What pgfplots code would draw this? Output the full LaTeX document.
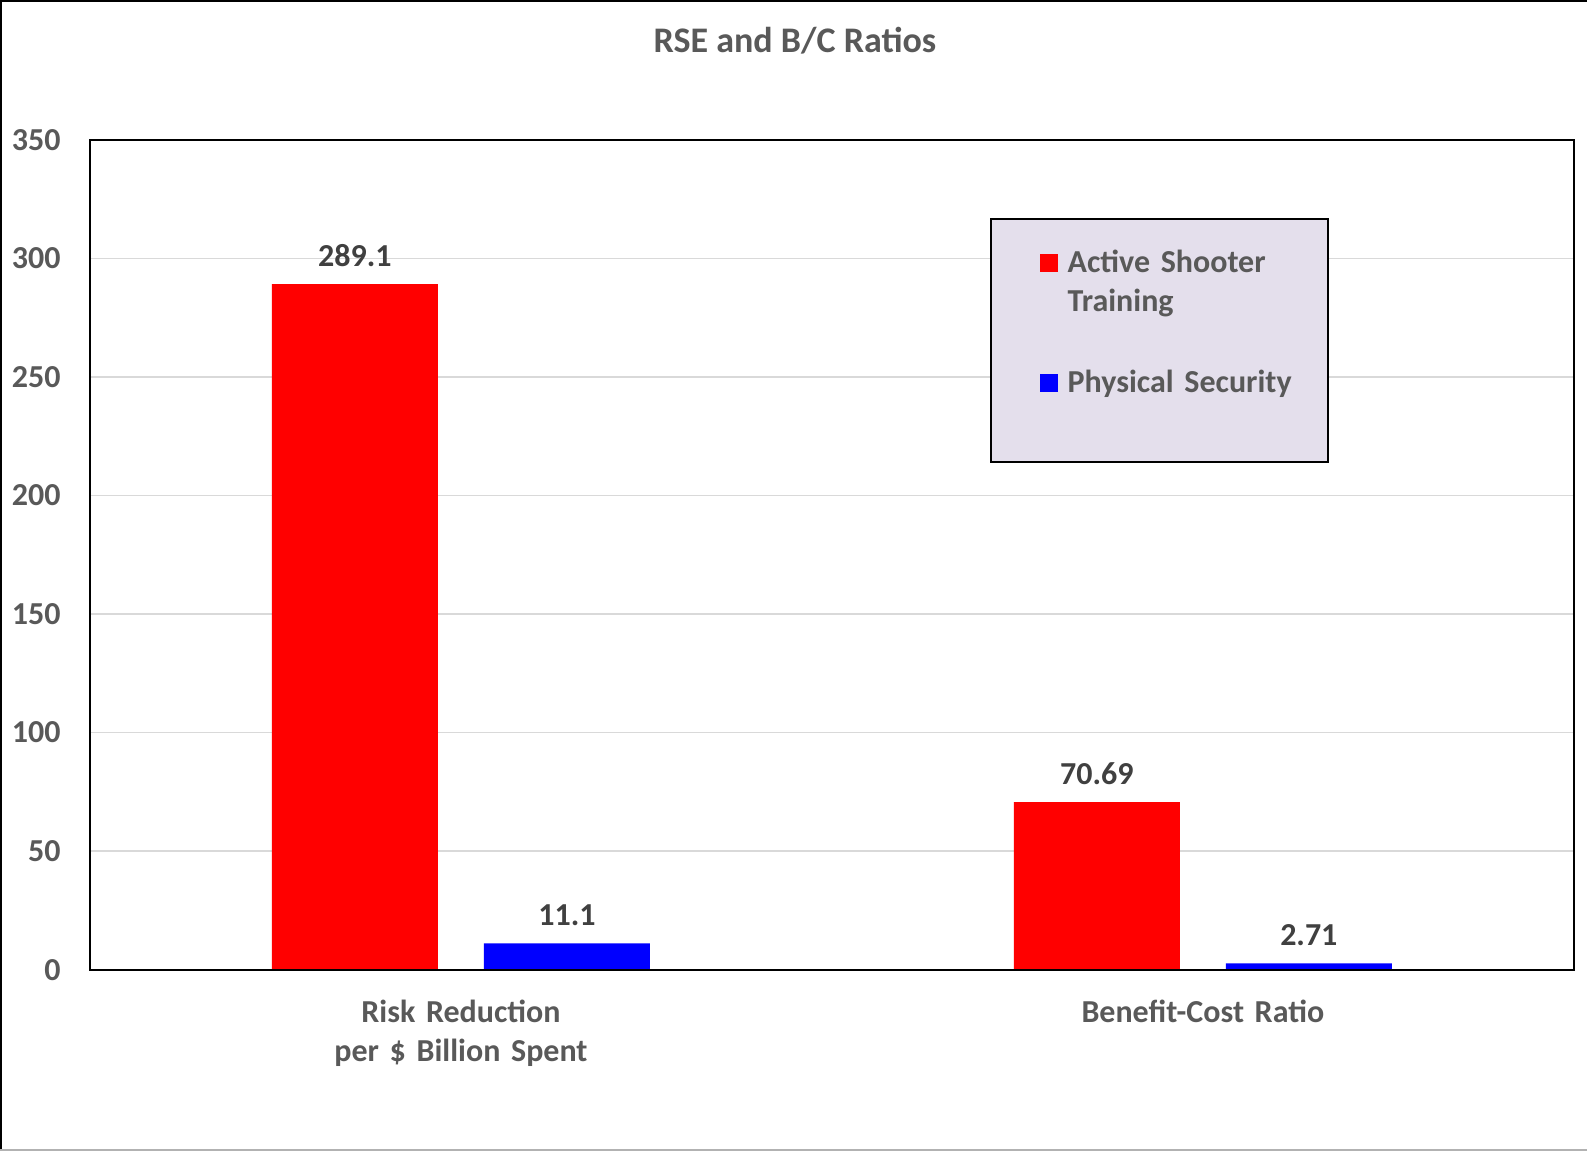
\documentclass[border=0pt]{standalone}
\usepackage{fontspec}
\setmainfont{Carlito}
\usepackage{pgfplots}
\pgfplotsset{compat=1.18}
\definecolor{txtgray}{HTML}{595959}
\definecolor{lblgray}{HTML}{404040}
\definecolor{gridgray}{HTML}{D9D9D9}
\definecolor{legfill}{HTML}{E4DFEC}
\newcommand{\chartfont}{\fontsize{16}{19.5}\selectfont\bfseries}
\begin{document}
\begin{tikzpicture}
\useasboundingbox (-45pt,-90.7pt) rectangle (748.5pt,484.85pt);
\begin{axis}[
    at={(0,0)}, anchor=south west,
    width=741.9pt, height=415pt, scale only axis,
    clip=false,
    ymin=0, ymax=350, ytick={0,50,...,350},
    xmin=-0.5, xmax=1.5, xtick={0,1},
    xticklabels={{Risk Reduction\\per \$ Billion Spent},{Benefit-Cost Ratio}},
    major tick length=0pt,
    ymajorgrids, grid style={gridgray, line width=0.75pt},
    axis line style={black, line width=1pt},
    ybar, bar width=83pt,
    legend image code/.code={\path (-24.6pt,0pt); \fill[#1] (0pt,0pt) rectangle (9pt,9pt);},
    /pgf/number format/assume math mode=true,
    tick label style={font=\chartfont, text=txtgray},
    yticklabel style={inner xsep=0pt, xshift=-14.5pt},
    xticklabel style={text width=250pt, align=center, anchor=base, inner sep=0pt, yshift=-26.3pt},
    nodes near coords,
    point meta=explicit symbolic,
    nodes near coords style={font=\chartfont, text=lblgray, anchor=base, inner sep=0pt, yshift=8.7pt},
    title={RSE and B/C Ratios},
    title style={at={(0.4751,1)}, anchor=base, yshift=37.8pt, font=\fontsize{18}{22}\selectfont\bfseries, text=txtgray, inner sep=0pt},
    legend style={at={(0.6064,0.9061)}, anchor=north west, fill=legfill, draw=black, line width=1pt,
        inner xsep=0pt, inner ysep=14.7pt, row sep=24.5pt, column sep=4.85pt,
        font=\chartfont, text=txtgray,
        nodes={inner sep=0pt, text depth=, text width=130pt, align=left},
        cells={anchor=base west}},
]
\addplot[fill=red, draw=none, bar shift=-53pt] coordinates {
    (0,289.1) [289.1]
    (1,70.69) [70.69]
};
\addlegendentry{\rule{0pt}{12pt}Active Shooter\\Training\rule[-4pt]{0pt}{4pt}}
\addplot[fill=blue, draw=none, bar shift=53pt] coordinates {
    (0,11.1) [11.1]
    (1,2.71) [2.71]
};
\addlegendentry{\rule{0pt}{12pt}Physical Security\rule[-20.5pt]{0pt}{20.5pt}}
\draw[black, line width=1pt] (rel axis cs:0,0) -- (rel axis cs:1,0);
\end{axis}
\draw[black, line width=1.5pt] (-44.6pt,-90.7pt) -- (-44.6pt,484.4pt) -- (748.5pt,484.4pt);
\draw[gray!60, line width=1pt] (-45pt,-90.4pt) -- (748.5pt,-90.4pt);
\end{tikzpicture}
\end{document}
